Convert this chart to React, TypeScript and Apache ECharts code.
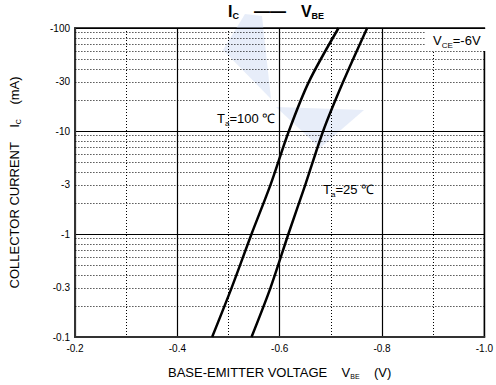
import React, { useEffect, useRef } from "react";
import * as echarts from "echarts";

const FONT = "Liberation Sans, Arial, sans-serif";

// Base-emitter voltage (V) vs collector current magnitude (mA)
const ta100V = [-0.468, -0.506, -0.545, -0.582, -0.618, -0.657, -0.715];
const ta100I = [0.1, 0.3, 1, 3, 10, 30, 100];
const ta25V = [-0.545, -0.582, -0.617, -0.65, -0.685, -0.724, -0.771];
const ta25I = [0.1, 0.3, 1, 3, 10, 30, 100];

const yLabelValues = [0.1, 0.3, 1, 3, 10, 30, 100];
const yMinorGrid = [
  0.2, 0.3, 0.4, 0.5, 0.6, 0.7, 0.8, 0.9,
  2, 3, 4, 5, 6, 7, 8, 9,
  20, 30, 40, 50, 60, 70, 80, 90,
];

export default function App() {
  const ref = useRef<HTMLDivElement>(null);
  useEffect(() => {
    if (!ref.current) return;
    const chart = echarts.init(ref.current, null, { renderer: "svg" });
    const sub = { fontSize: 7, fontFamily: FONT, color: "#000", padding: [8, 0, 0, 0] };
    const ann = (text: string) => ({
      text,
      rich: {
        n: { fontSize: 13, fontFamily: FONT, fill: "#000" },
        s: { fontSize: 8, fontFamily: FONT, fill: "#000", padding: [9, 0, 0, 0] },
      },
    });
    const option: any = {
      animation: false,
      backgroundColor: "#fff",
      textStyle: { fontFamily: FONT },
      title: {
        left: 223,
        top: -3,
        text: "{b|I}{s|C}{g|}{d|——}{g|}{b|V}{s|BE}",
        textStyle: {
          rich: {
            b: { fontSize: 16, fontWeight: "bold", fontFamily: FONT, color: "#000" },
            s: { fontSize: 9, fontWeight: "bold", fontFamily: FONT, color: "#000", padding: [9, 0, 0, 0] },
            g: { width: 15 },
            d: { fontSize: 16, fontWeight: "bold", fontFamily: FONT, color: "#000" },
          },
        },
      },
      grid: { left: 75, right: 8, top: 28, bottom: 44, show: true, borderColor: "#000", borderWidth: 1.5 },
      xAxis: {
        type: "value",
        inverse: true,
        min: -1,
        max: -0.2,
        interval: 0.2,
        name: "{n|BASE-EMITTER VOLTAGE    V}{s|BE}{n|    (V)}",
        nameLocation: "middle",
        nameGap: 28,
        nameTextStyle: {
          rich: {
            n: { fontSize: 13, fontFamily: FONT, color: "#000" },
            s: sub,
          },
        },
        axisLine: { show: true, lineStyle: { color: "#333", width: 2 } },
        axisTick: { show: false },
        minorTick: { show: false, splitNumber: 2 },
        axisLabel: {
          fontSize: 10,
          color: "#000",
          fontFamily: FONT,
          margin: 6,
          formatter: (v: number) => v.toFixed(1),
        },
        splitLine: { show: true, lineStyle: { color: "#000", width: 1.2 } },
        minorSplitLine: { show: true, lineStyle: { color: "#000", width: 1, type: [1, 2] } },
      },
      yAxis: {
        type: "log",
        logBase: 10,
        min: 0.1,
        max: 100,
        name: "{n|COLLECTOR CURRENT    I}{s|C}{n|    (mA)}",
        nameLocation: "middle",
        nameGap: 53,
        nameTextStyle: {
          rich: {
            n: { fontSize: 13, fontFamily: FONT, color: "#000" },
            s: sub,
          },
        },
        axisLine: { show: true, lineStyle: { color: "#333", width: 2 } },
        axisTick: { show: false },
        axisLabel: {
          fontSize: 10,
          color: "#000",
          fontFamily: FONT,
          margin: 5,
          customValues: yLabelValues,
          formatter: (v: number) => "-" + String(Number(v.toPrecision(3))),
        },
        splitLine: { show: true, lineStyle: { color: "#000", width: 1.2 } },
      },
      graphic: [
        {
          type: "polygon",
          silent: true,
          shape: { points: [[245, 14], [262, 16], [271, 99], [223, 50]] },
          style: { fill: "#b9cbee", opacity: 0.35 },
        },
        {
          type: "polygon",
          silent: true,
          shape: { points: [[276, 107], [364, 110], [320, 148]] },
          style: { fill: "#b9cbee", opacity: 0.35 },
        },
        {
          type: "rect",
          z: 10,
          shape: { x: 425, y: 29, width: 62, height: 22 },
          style: { fill: "#fff" },
        },
        { type: "text", z: 11, x: 433, y: 32, style: ann("{n|V}{s|CE}{n|=-6V}") },
        { type: "text", z: 11, x: 217, y: 110, style: ann("{n|T}{s|a}{n|=100 ℃}") },
        { type: "text", z: 11, x: 323, y: 181, style: ann("{n|T}{s|a}{n|=25 ℃}") },
      ],
      series: [
        {
          name: "Ta=100",
          type: "line",
          z: 5,
          smooth: 0.3,
          symbol: "none",
          lineStyle: { color: "#000", width: 2.5 },
          data: ta100V.map((v, i) => [v, ta100I[i]]),
          markLine: {
            silent: true,
            symbol: "none",
            label: { show: false },
            lineStyle: { color: "#000", width: 1, type: [1, 2] },
            data: yMinorGrid.map((y) => ({ yAxis: y })),
          },
        },
        {
          name: "Ta=25",
          type: "line",
          z: 5,
          smooth: 0.3,
          symbol: "none",
          lineStyle: { color: "#000", width: 2.5 },
          data: ta25V.map((v, i) => [v, ta25I[i]]),
        },
      ],
    };
    chart.setOption(option);
    return () => chart.dispose();
  }, []);
  return <div ref={ref} style={{ width: 496, height: 385, position: "absolute", left: 0, top: 0 }} />;
}
